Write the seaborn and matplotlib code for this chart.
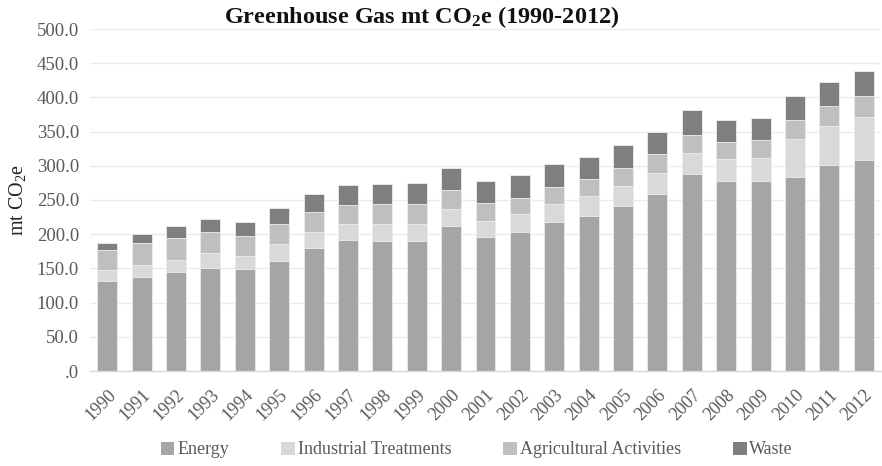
import numpy as np
import pandas as pd
import matplotlib
matplotlib.use("Agg")
import matplotlib.pyplot as plt
from matplotlib.patches import Patch
from matplotlib.ticker import FuncFormatter, MultipleLocator
import seaborn as sns

years = [str(y) for y in range(1990, 2013)]
energy = [132.0, 138.0, 145.0, 150.8, 148.8, 160.5, 179.4, 191.5, 190.5, 190.5, 212.3, 195.3,
          203.6, 217.7, 226.9, 241.3, 258.4, 288.4, 277.3, 277.8, 284.0, 300.6, 307.9]
industrial = [16.3, 17.6, 18.0, 21.8, 18.9, 25.2, 23.2, 23.7, 24.3, 24.3, 24.3, 24.3,
              25.8, 26.2, 28.6, 28.7, 31.0, 30.1, 32.0, 33.9, 55.9, 57.6, 63.0]
agricultural = [28.7, 31.0, 31.4, 30.4, 30.1, 29.1, 30.1, 28.1, 29.5, 29.5, 28.1, 26.2,
                24.1, 25.6, 25.6, 27.0, 27.2, 27.2, 25.2, 25.7, 26.6, 29.1, 31.5]
waste = [10.6, 13.4, 17.0, 19.0, 19.9, 23.2, 26.7, 29.1, 29.6, 31.0, 32.3, 32.0,
         33.0, 33.0, 31.1, 32.7, 32.9, 35.3, 33.0, 32.4, 34.9, 34.9, 36.4]

series = ["Energy", "Industrial Treatments", "Agricultural Activities", "Waste"]
colors = ["#a5a5a5", "#d9d9d9", "#bfbfbf", "#7f7f7f"]

df = pd.DataFrame({"Year": years, "Energy": energy, "Industrial Treatments": industrial,
                   "Agricultural Activities": agricultural, "Waste": waste})
cum = df[series].cumsum(axis=1)

sns.set_theme(style="whitegrid")
plt.rcParams["font.family"] = ["Liberation Serif", "DejaVu Serif"]
plt.rcParams["mathtext.fontset"] = "custom"
plt.rcParams["mathtext.rm"] = "Liberation Serif"
plt.rcParams["mathtext.it"] = "Liberation Serif:italic"
plt.rcParams["mathtext.bf"] = "Liberation Serif:bold"

fig = plt.figure(figsize=(8.82, 4.66), dpi=100)
ax = fig.add_axes([90 / 882, (466 - 371) / 466, 791 / 882, 342 / 466])

# stacked bars: draw cumulative totals from the top layer down
for name, col in reversed(list(zip(series, colors))):
    sns.barplot(x=df["Year"], y=cum[name], color=col, width=0.58, ax=ax,
                saturation=1, edgecolor="#eeeeee", linewidth=0.6, zorder=2)

ax.set_ylim(0, 500)
ax.set_xlim(-0.5, len(years) - 0.5)
ax.yaxis.set_major_locator(MultipleLocator(50))
ax.yaxis.set_major_formatter(FuncFormatter(lambda v, p: ".0" if v == 0 else f"{v:.1f}"))
ax.grid(axis="y", color="#ebebeb", linewidth=1.0, zorder=0)
ax.grid(axis="x", visible=False)
ax.set_axisbelow(True)
for s in ["top", "right", "left"]:
    ax.spines[s].set_visible(False)
ax.spines["bottom"].set_color("#d9d9d9")
ax.spines["bottom"].set_linewidth(1.0)

ax.tick_params(axis="y", length=0, pad=8, labelsize=13.5, labelcolor="#595959")
ax.tick_params(axis="x", length=0, pad=11, labelsize=13, labelcolor="#595959")
plt.setp(ax.get_xticklabels(), rotation=45, ha="right", rotation_mode="anchor")

ax.set_xlabel("")
ax.set_ylabel("mt CO$_2$e", fontsize=14.5, color="#222222", labelpad=6)

fig.text(422 / 882, 1 - 17 / 466, r"Greenhouse Gas mt CO$_\mathbf{2}$e (1990-2012)",
         ha="center", va="center", fontsize=17.5, fontweight="bold", color="#111111")

handles = [Patch(facecolor=c, edgecolor="none") for c in colors]
fig.legend(handles, series, loc="center", bbox_to_anchor=(477 / 882, 1 - 450 / 466),
           ncol=4, frameon=False, fontsize=13, labelcolor="#595959",
           handlelength=0.75, handleheight=0.75, handletextpad=0.15,
           columnspacing=2.9)

fig.savefig("out.png", dpi=100)
